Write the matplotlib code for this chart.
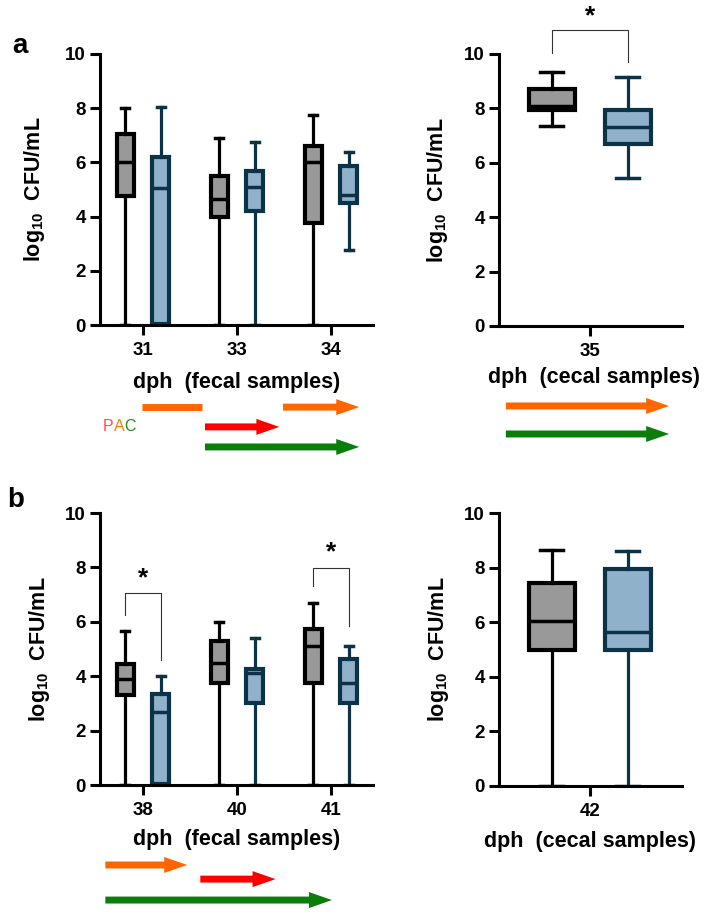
import numpy as np
import matplotlib
matplotlib.use("Agg")
import matplotlib.pyplot as plt
import matplotlib.transforms as mtransforms

plt.rcParams["font.family"] = ["Liberation Sans", "DejaVu Sans"]
plt.rcParams["font.weight"] = "bold"
plt.rcParams["mathtext.fontset"] = "custom"
plt.rcParams["mathtext.rm"] = "Liberation Sans:bold"
plt.rcParams["mathtext.it"] = "Liberation Sans:bold"
plt.rcParams["mathtext.bf"] = "Liberation Sans:bold"

# =========================
# DATA  (each box: [whislo, q1, med, q3, whishi])
# =========================
fecal_a_days = ["31", "33", "34"]
fecal_a_ctrl = [[0.0, 4.75, 6.0, 7.05, 8.0],
                [0.0, 4.0, 4.65, 5.5, 6.9],
                [0.0, 3.75, 6.0, 6.6, 7.75]]
fecal_a_trt = [[0.0, 0.05, 5.05, 6.2, 8.05],
               [0.0, 4.2, 5.1, 5.7, 6.75],
               [2.75, 4.5, 4.8, 5.85, 6.4]]

cecal_a_day = ["35"]
cecal_a_ctrl = [[7.35, 7.95, 8.1, 8.72, 9.35]]
cecal_a_trt = [[5.45, 6.7, 7.3, 7.95, 9.15]]

fecal_b_days = ["38", "40", "41"]
fecal_b_ctrl = [[0.0, 3.3, 3.9, 4.45, 5.65],
                [0.0, 3.75, 4.5, 5.3, 6.0],
                [0.0, 3.75, 5.1, 5.75, 6.7]]
fecal_b_trt = [[0.0, 0.05, 2.7, 3.35, 4.0],
               [0.0, 3.0, 4.1, 4.25, 5.4],
               [0.0, 3.0, 3.75, 4.65, 5.1]]

cecal_b_day = ["42"]
cecal_b_ctrl = [[0.0, 5.0, 6.05, 7.45, 8.65]]
cecal_b_trt = [[0.0, 5.0, 5.65, 7.95, 8.6]]

# significance brackets: (group index, top, left leg end, right leg end, star y)
sig_a_cecal = [(0, 10.88, 10.03, 9.7, 11.4)]
sig_b_fecal = [(0, 7.06, 6.25, 4.6, 7.6),
               (2, 7.97, 7.3, 5.85, 8.55)]

# treatment arrows: (x start, x end, level in axes fraction, colour, head)
arrows_a_fecal = [(-0.01, 0.63, -0.303, "#ff6600", False),
                  (1.49, 2.30, -0.303, "#ff6600", True),
                  (0.66, 1.45, -0.376, "#ff0000", True),
                  (0.66, 2.30, -0.450, "#0a7d0a", True)]
arrows_a_cecal = [(-2.21, 2.08, -0.294, "#ff6600", True),
                  (-2.21, 2.08, -0.397, "#0a7d0a", True)]
arrows_b_fecal = [(-0.40, 0.47, -0.294, "#ff6600", True),
                  (0.61, 1.41, -0.346, "#ff0000", True),
                  (-0.40, 2.01, -0.423, "#0a7d0a", True)]

CTRL_FILL, CTRL_EDGE = "#999999", "#000000"
TRT_FILL, TRT_EDGE = "#8fb1ca", "#0b3247"

W, H = 708, 914
fig = plt.figure(figsize=(W / 100, H / 100), dpi=100)


def px_axes(x0, x1, ytop, ybot):
    return fig.add_axes([x0 / W, 1 - ybot / H, (x1 - x0) / W, (ybot - ytop) / H])


def stats(vals):
    lo, q1, med, q3, hi = vals
    return dict(whislo=lo, q1=q1, med=med, q3=q3, whishi=hi, fliers=[])


def draw_boxes(ax, data, pos, width, fill, edge):
    ax.bxp([stats(v) for v in data], positions=pos, widths=width,
           showfliers=False, patch_artist=True, manage_ticks=False,
           boxprops=dict(facecolor=fill, edgecolor=edge, linewidth=3.0),
           medianprops=dict(color=edge, linewidth=2.5, solid_capstyle="butt"),
           whiskerprops=dict(color=edge, linewidth=2.3),
           capprops=dict(color=edge, linewidth=2.5))


def style(ax, labels, xlim, xlab, xlab_pos, ylab_x):
    ax.set_ylim(0, 10)
    ax.set_xlim(*xlim)
    ax.set_yticks([0, 2, 4, 6, 8, 10])
    ax.set_xticks(range(len(labels)))
    ax.set_xticklabels(labels)
    for s in ["top", "right"]:
        ax.spines[s].set_visible(False)
    for s in ["left", "bottom"]:
        ax.spines[s].set_linewidth(2.2)
    ax.tick_params(axis="both", width=2.2, length=7.5, labelsize=13.5)
    ax.tick_params(axis="x", pad=4.5)
    ax.tick_params(axis="y", pad=2.5)
    ax.set_ylabel("log$_{10}$  CFU/mL", fontsize=15.5, fontweight="bold")
    ax.yaxis.set_label_coords(ylab_x, 0.5)
    ax.text(xlab_pos[0], xlab_pos[1], xlab, transform=ax.transAxes,
            ha="center", va="center", fontsize=15.5, fontweight="bold")


def brackets(ax, sig, x_ctrl, x_trt):
    for i, top, yl, yr, ys in sig:
        xl, xr = x_ctrl[i], x_trt[i]
        ax.plot([xl, xl, xr, xr], [yl, top, top, yr], color="#333333",
                lw=0.8, clip_on=False)
        ax.text((xl + xr) / 2, ys, "*", ha="center", va="center",
                fontsize=19, fontweight="bold", clip_on=False)


def draw_arrows(ax, arrows):
    trans = mtransforms.blended_transform_factory(ax.transData, ax.transAxes)
    for x0, x1, lvl, col, head in arrows:
        if head:
            ax.annotate("", xy=(x1, lvl), xytext=(x0, lvl), xycoords=trans,
                        textcoords=trans, annotation_clip=False,
                        arrowprops=dict(arrowstyle="simple,head_length=1.65,head_width=1.15,tail_width=0.5",
                                        color=col, shrinkA=0, shrinkB=0,
                                        mutation_scale=10, lw=0))
        else:
            ax.plot([x0, x1], [lvl, lvl], color=col, lw=5.0,
                    solid_capstyle="butt", transform=trans, clip_on=False)


# ---------- panel a, fecal ----------
ax1 = px_axes(100, 373, 54, 325)
pos = np.arange(len(fecal_a_days))
draw_boxes(ax1, fecal_a_ctrl, pos - 0.19, 0.18, CTRL_FILL, CTRL_EDGE)
draw_boxes(ax1, fecal_a_trt, pos + 0.19, 0.18, TRT_FILL, TRT_EDGE)
style(ax1, fecal_a_days, (-0.457, 2.447), "dph  (fecal samples)", (0.502, -0.212), -0.194)
draw_arrows(ax1, arrows_a_fecal)

# ---------- panel a, cecal ----------
ax2 = px_axes(499, 682, 54, 326)
pos = np.arange(len(cecal_a_day))
draw_boxes(ax2, cecal_a_ctrl, pos - 1.0, 1.21, CTRL_FILL, CTRL_EDGE)
draw_boxes(ax2, cecal_a_trt, pos + 1.0, 1.21, TRT_FILL, TRT_EDGE)
style(ax2, cecal_a_day, (-2.39, 2.42), "dph  (cecal samples)", (0.52, -0.19), -0.268)
brackets(ax2, sig_a_cecal, pos - 1.0, pos + 1.0)
draw_arrows(ax2, arrows_a_cecal)

# ---------- panel b, fecal ----------
ax3 = px_axes(100, 373, 513, 785)
pos = np.arange(len(fecal_b_days))
draw_boxes(ax3, fecal_b_ctrl, pos - 0.19, 0.18, CTRL_FILL, CTRL_EDGE)
draw_boxes(ax3, fecal_b_trt, pos + 0.19, 0.18, TRT_FILL, TRT_EDGE)
style(ax3, fecal_b_days, (-0.457, 2.447), "dph  (fecal samples)", (0.502, -0.202), -0.175)
brackets(ax3, sig_b_fecal, pos - 0.19, pos + 0.19)
draw_arrows(ax3, arrows_b_fecal)

# ---------- panel b, cecal ----------
ax4 = px_axes(499, 682, 513, 786)
pos = np.arange(len(cecal_b_day))
draw_boxes(ax4, cecal_b_ctrl, pos - 1.0, 1.21, CTRL_FILL, CTRL_EDGE)
draw_boxes(ax4, cecal_b_trt, pos + 1.0, 1.21, TRT_FILL, TRT_EDGE)
style(ax4, cecal_b_day, (-2.39, 2.42), "dph  (cecal samples)", (0.497, -0.205), -0.262)

# panel letters
fig.text(12 / W, 1 - 46 / H, "a", fontsize=20, fontweight="bold", va="center", ha="left")
fig.text(7 / W, 1 - 500 / H, "b", fontsize=20, fontweight="bold", va="center", ha="left")

# PAC legend text, one colour per letter
renderer = fig.canvas.get_renderer()
x = 103 / W
for ch, col in zip("PAC", ["#ff4d4d", "#ff8000", "#1a8c1a"]):
    t = fig.text(x, 1 - 426 / H, ch, color=col, fontsize=11.5, fontweight="normal",
                 va="center", ha="left")
    bb = t.get_window_extent(renderer)
    x += bb.width / fig.bbox.width

fig.savefig("out.png", dpi=100)
